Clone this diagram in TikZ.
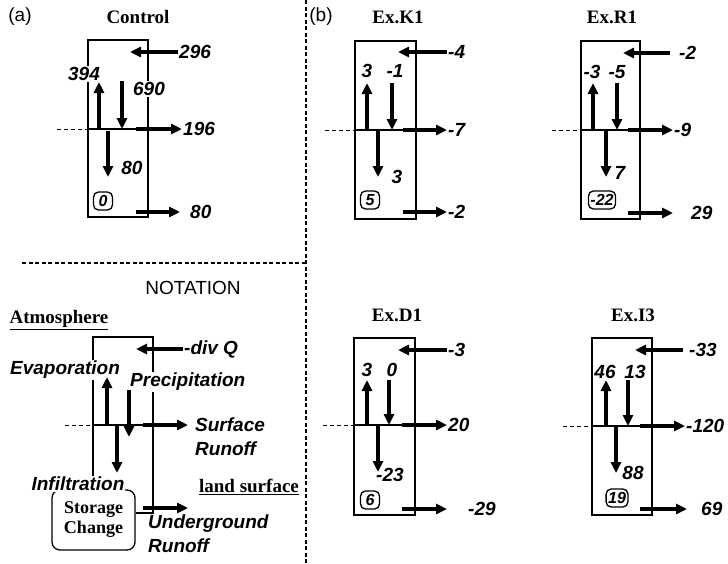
\documentclass[tikz,border=0pt]{standalone}
\usepackage{fontspec}
\setmainfont{Liberation Serif}
\newfontfamily\helv{Liberation Sans}
\usetikzlibrary{arrows.meta}
\tikzset{
  flux/.style={line width=3.5pt, -{Triangle[length=11pt,width=10pt]}},
  frame/.style={line width=1.3pt},
  surf/.style={line width=0.9pt, dash pattern=on 4pt off 3pt},
  divider/.style={line width=1.2pt, dash pattern=on 4pt off 2.5pt},
  val/.style={font=\helv\bfseries\itshape\fontsize{19}{24}\selectfont, inner sep=1pt, fill=white},
  store/.style={draw, rounded corners=5pt, line width=1.3pt, inner sep=2pt,
    font=\helv\bfseries\itshape\fontsize{16}{18}\selectfont, minimum height=18pt, minimum width=19pt},
  ttl/.style={font=\bfseries\fontsize{19}{21}\selectfont},
  tag/.style={font=\helv\fontsize{19}{21}\selectfont},
}
\begin{document}
\begin{tikzpicture}[x=1pt,y=-1pt]
  \useasboundingbox (0,0) rectangle (728,563);
  % dividers
  \coordinate (vtop) at (306,0);
  \coordinate (vbot) at (306,563);
  \coordinate (hleft) at (22,263);
  \coordinate (hright) at (306,263);
  \draw[divider] (vtop) -- (vbot);
  \draw[divider] (hleft) -- (hright);
  \node[tag] (taga) at (20,17) {(a)};
  \node[tag] (tagb) at (321,17) {(b)};
  \node[tag] (notation) at (193,288) {NOTATION};
  \node[ttl] (t-control) at (138,17) {Control};
  \node[ttl] (t-k1) at (398,17) {Ex.K1};
  \node[ttl] (t-r1) at (612,17) {Ex.R1};
  \node[ttl] (t-d1) at (397,315) {Ex.D1};
  \node[ttl] (t-i3) at (633,315) {Ex.I3};

  % control
  \begin{scope}[shift={(88,40)}]
    \coordinate (c-tl) at (0,0);
    \coordinate (c-br) at (60,177);
    \coordinate (c-sl) at (0,89);
    \coordinate (c-sr) at (60,89);
    \coordinate (c-dash) at (-31,89);
    \draw[frame] (c-tl) rectangle (c-br);
    \draw[frame] (c-sl) -- (c-sr);
    \draw[surf] (c-dash) -- (c-sl);
    \coordinate (c-q0) at (90,12);  \coordinate (c-q1) at (42,12);
    \coordinate (c-e0) at (11,89);  \coordinate (c-e1) at (11,42);
    \coordinate (c-p0) at (34,41);  \coordinate (c-p1) at (34,89);
    \coordinate (c-s0) at (48,89);  \coordinate (c-s1) at (94,89);
    \coordinate (c-i0) at (20,91);  \coordinate (c-i1) at (20,137);
    \coordinate (c-g0) at (48,172); \coordinate (c-g1) at (92,172);
    \node[val, right] (c-ql) at (c-q0) {296};
    \node[val] (c-el) at (-4,34) {394};
    \node[val] (c-pl) at (61,49) {690};
    \node[val, right] (c-sl) at (c-s1) {196};
    \node[val] (c-il) at (44,128) {80};
    \node[val, right] (c-gl) at (101,172) {80};
    \node[store] (c-st) at (15,161) {0};
    \draw[flux] (c-q0) -- (c-q1);
    \draw[flux] (c-e0) -- (c-e1);
    \draw[flux] (c-p0) -- (c-p1);
    \draw[flux] (c-s0) -- (c-s1);
    \draw[flux] (c-i0) -- (c-i1);
    \draw[flux] (c-g0) -- (c-g1);
  \end{scope}

  % Ex.K1
  \begin{scope}[shift={(355,41)}]
    \coordinate (k-tl) at (0,0);
    \coordinate (k-br) at (61,178);
    \coordinate (k-sl) at (0,89);
    \coordinate (k-sr) at (61,89);
    \coordinate (k-dash) at (-30,89);
    \draw[frame] (k-tl) rectangle (k-br);
    \draw[frame] (k-sl) -- (k-sr);
    \draw[surf] (k-dash) -- (k-sl);
    \coordinate (k-q0) at (92,11);  \coordinate (k-q1) at (43,11);
    \coordinate (k-e0) at (12,89);  \coordinate (k-e1) at (12,42);
    \coordinate (k-p0) at (37,42);  \coordinate (k-p1) at (37,89);
    \coordinate (k-s0) at (48,89);  \coordinate (k-s1) at (92,89);
    \coordinate (k-i0) at (23,89);  \coordinate (k-i1) at (23,136);
    \coordinate (k-g0) at (48,171); \coordinate (k-g1) at (92,171);
    \node[val, right] (k-ql) at (k-q0) {-4};
    \node[val] (k-el) at (12,30) {3};
    \node[val] (k-pl) at (40,30) {-1};
    \node[val, right] (k-sl) at (k-s1) {-7};
    \node[val] (k-il) at (42,136) {3};
    \node[val, right] (k-gl) at (k-g1) {-2};
    \node[store] (k-st) at (15,159) {5};
    \draw[flux] (k-q0) -- (k-q1);
    \draw[flux] (k-e0) -- (k-e1);
    \draw[flux] (k-p0) -- (k-p1);
    \draw[flux] (k-s0) -- (k-s1);
    \draw[flux] (k-i0) -- (k-i1);
    \draw[flux] (k-g0) -- (k-g1);
  \end{scope}

  % Ex.R1
  \begin{scope}[shift={(581,41)}]
    \coordinate (r-tl) at (0,0);
    \coordinate (r-br) at (59,178);
    \coordinate (r-sl) at (0,89);
    \coordinate (r-sr) at (59,89);
    \coordinate (r-dash) at (-29,89);
    \draw[frame] (r-tl) rectangle (r-br);
    \draw[frame] (r-sl) -- (r-sr);
    \draw[surf] (r-dash) -- (r-sl);
    \coordinate (r-q0) at (89,12);  \coordinate (r-q1) at (42,12);
    \coordinate (r-e0) at (12,89);  \coordinate (r-e1) at (12,42);
    \coordinate (r-p0) at (36,42);  \coordinate (r-p1) at (36,89);
    \coordinate (r-s0) at (47,89);  \coordinate (r-s1) at (92,89);
    \coordinate (r-i0) at (25,89);  \coordinate (r-i1) at (25,136);
    \coordinate (r-g0) at (47,172); \coordinate (r-g1) at (92,172);
    \node[val, right] (r-ql) at (97,12) {-2};
    \node[val] (r-el) at (11,31) {-3};
    \node[val] (r-pl) at (36,31) {-5};
    \node[val, right] (r-sl) at (r-s1) {-9};
    \node[val] (r-il) at (39,132) {7};
    \node[val, right] (r-gl) at (109,172) {29};
    \node[store] (r-st) at (21,159) {-22};
    \draw[flux] (r-q0) -- (r-q1);
    \draw[flux] (r-e0) -- (r-e1);
    \draw[flux] (r-p0) -- (r-p1);
    \draw[flux] (r-s0) -- (r-s1);
    \draw[flux] (r-i0) -- (r-i1);
    \draw[flux] (r-g0) -- (r-g1);
  \end{scope}

  % Ex.D1
  \begin{scope}[shift={(354,338)}]
    \coordinate (d-tl) at (0,0);
    \coordinate (d-br) at (61,177);
    \coordinate (d-sl) at (0,87);
    \coordinate (d-sr) at (61,87);
    \coordinate (d-dash) at (-31,87);
    \draw[frame] (d-tl) rectangle (d-br);
    \draw[frame] (d-sl) -- (d-sr);
    \draw[surf] (d-dash) -- (d-sl);
    \coordinate (d-q0) at (93,12);  \coordinate (d-q1) at (44,12);
    \coordinate (d-e0) at (13,87);  \coordinate (d-e1) at (13,42);
    \coordinate (d-p0) at (35,42);  \coordinate (d-p1) at (35,87);
    \coordinate (d-s0) at (48,87);  \coordinate (d-s1) at (93,87);
    \coordinate (d-i0) at (24,87);  \coordinate (d-i1) at (24,134);
    \coordinate (d-g0) at (48,171); \coordinate (d-g1) at (93,171);
    \node[val, right] (d-ql) at (d-q0) {-3};
    \node[val] (d-el) at (13,32) {3};
    \node[val] (d-pl) at (38,32) {0};
    \node[val, right] (d-sl) at (d-s1) {20};
    \node[val, right] (d-il) at (21,137) {-23};
    \node[val, right] (d-gl) at (113,171) {-29};
    \node[store] (d-st) at (16,162) {6};
    \draw[flux] (d-q0) -- (d-q1);
    \draw[flux] (d-e0) -- (d-e1);
    \draw[flux] (d-p0) -- (d-p1);
    \draw[flux] (d-s0) -- (d-s1);
    \draw[flux] (d-i0) -- (d-i1);
    \draw[flux] (d-g0) -- (d-g1);
  \end{scope}

  % Ex.I3
  \begin{scope}[shift={(592,338)}]
    \coordinate (i-tl) at (0,0);
    \coordinate (i-br) at (60,177);
    \coordinate (i-sl) at (0,88);
    \coordinate (i-sr) at (60,88);
    \coordinate (i-dash) at (-29,88);
    \draw[frame] (i-tl) rectangle (i-br);
    \draw[frame] (i-sl) -- (i-sr);
    \draw[surf] (i-dash) -- (i-sl);
    \coordinate (i-q0) at (91,12);  \coordinate (i-q1) at (43,12);
    \coordinate (i-e0) at (14,88);  \coordinate (i-e1) at (14,42);
    \coordinate (i-p0) at (36,42);  \coordinate (i-p1) at (36,88);
    \coordinate (i-s0) at (48,88);  \coordinate (i-s1) at (93,88);
    \coordinate (i-i0) at (24,88);  \coordinate (i-i1) at (24,135);
    \coordinate (i-g0) at (48,171); \coordinate (i-g1) at (95,171);
    \node[val, right] (i-ql) at (96,12) {-33};
    \node[val] (i-el) at (13,34) {46};
    \node[val] (i-pl) at (43,34) {13};
    \node[val, right] (i-sl) at (i-s1) {-120};
    \node[val] (i-il) at (41,135) {88};
    \node[val, right] (i-gl) at (108,171) {69};
    \node[store] (i-st) at (25,160) {19};
    \draw[flux] (i-q0) -- (i-q1);
    \draw[flux] (i-e0) -- (i-e1);
    \draw[flux] (i-p0) -- (i-p1);
    \draw[flux] (i-s0) -- (i-s1);
    \draw[flux] (i-i0) -- (i-i1);
    \draw[flux] (i-g0) -- (i-g1);
  \end{scope}

  % notation
  \node[ttl] (atmos) at (59,320) {\underline{Atmosphere}};
  \node[ttl] (land) at (249,487) {\underline{land surface}};
  \begin{scope}[shift={(93,337)}]
    \coordinate (n-tl) at (0,0);
    \coordinate (n-tr) at (60,0);
    \coordinate (n-rb) at (60,176);
    \coordinate (n-sl) at (0,88);
    \coordinate (n-sr) at (60,88);
    \coordinate (n-dash) at (-28,88);
    \node[draw, rounded corners=8pt, line width=1.3pt, minimum width=83pt, minimum height=60pt,
      align=center, font=\bfseries\fontsize{18}{20}\selectfont] (n-st) at (0.5,183) {Storage\\Change};
    \draw[frame] (n-st.north -| n-tl) -- (n-tl) -- (n-tr) -- (n-rb) -- (n-rb -| n-st.east);
    \draw[frame] (n-sl) -- (n-sr);
    \draw[surf] (n-dash) -- (n-sl);
    \coordinate (n-q0) at (90,12);  \coordinate (n-q1) at (43,12);
    \coordinate (n-e0) at (14,88);  \coordinate (n-e1) at (14,40);
    \coordinate (n-p0) at (36,53);  \coordinate (n-p1) at (36,100);
    \coordinate (n-s0) at (50,88);  \coordinate (n-s1) at (95,88);
    \coordinate (n-i0) at (24,88);  \coordinate (n-i1) at (24,136);
    \coordinate (n-g0) at (50,171); \coordinate (n-g1) at (95,171);
    \node[val, right] (n-ql) at (n-q0) {-div Q};
    \node[val] (n-el) at (-28,33) {Evaporation};
    \node[val, right] (n-pl) at (36,45) {Precipitation};
    \node[val, right, align=left, fill=none] (n-sl) at (101,100) {Surface\\Runoff};
    \node[val] (n-il) at (-15,147) {Infiltration};
    \node[val, right, align=left, fill=none] (n-gl) at (54,197) {Underground\\Runoff};
    \draw[flux] (n-q0) -- (n-q1);
    \draw[flux] (n-e0) -- (n-e1);
    \draw[flux] (n-p0) -- (n-p1);
    \draw[flux] (n-s0) -- (n-s1);
    \draw[flux] (n-i0) -- (n-i1);
    \draw[flux] (n-g0) -- (n-g1);
  \end{scope}
\end{tikzpicture}
\end{document}
